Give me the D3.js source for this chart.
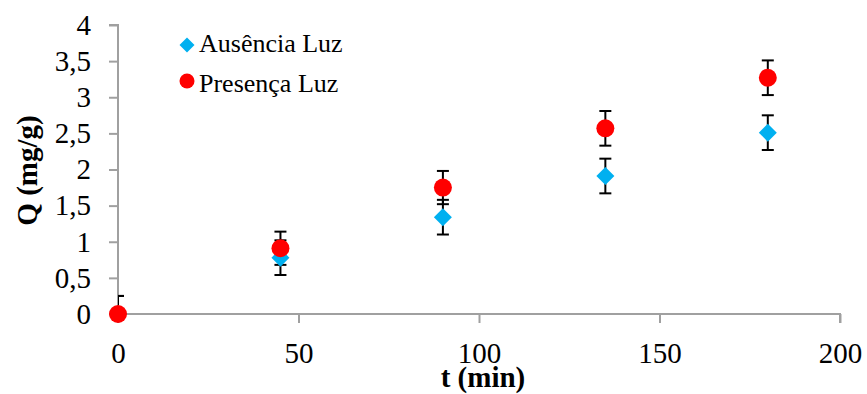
<!DOCTYPE html>
<html>
<head>
<meta charset="utf-8">
<script src="https://cdn.jsdelivr.net/npm/d3@7"></script>
<style>
  html, body { margin: 0; padding: 0; background: #fff; }
  svg { display: block; }
  svg text { font-family: "Liberation Serif", "Times New Roman", serif; fill: #000; }
</style>
</head>
<body>
<svg id="chart" width="867" height="394"></svg>
<script>
// Adsorption capacity over time, with and without light
const times = [0, 45, 90, 135, 180];
const ausenciaQ = [0, 0.78, 1.34, 1.91, 2.51];
const ausenciaErr = [0.25, 0.24, 0.24, 0.24, 0.24];
const presencaQ = [0, 0.91, 1.75, 2.57, 3.27];
const presencaErr = [0.25, 0.23, 0.23, 0.24, 0.24];
const xTicks = [0, 50, 100, 150, 200];
const yTicks = [0, 0.5, 1, 1.5, 2, 2.5, 3, 3.5, 4];
const seriesNames = ["Ausência Luz", "Presença Luz"];

const svg = d3.select("#chart");
const plotLeft = 118, plotRight = 840, plotTop = 25, plotBottom = 314;

const x = d3.scaleLinear().domain([0, 200]).range([plotLeft, plotRight]);
const y = d3.scaleLinear().domain([0, 4]).range([plotBottom, plotTop]);

const axisColor = "#a0a0a0";
const fontFamily = "'Liberation Serif', 'Times New Roman', serif";
const fmt = d => String(d).replace(".", ",");

// Y axis
const yAxis = svg.append("g")
  .attr("transform", `translate(${plotLeft},0)`)
  .call(d3.axisLeft(y).tickValues(yTicks).tickSize(9).tickPadding(18).tickFormat(fmt));
yAxis.select(".domain").attr("stroke", axisColor).attr("stroke-width", 2)
  .attr("d", `M${-9},${plotTop}H0V${plotBottom}`);
yAxis.selectAll(".tick line").attr("stroke", axisColor).attr("stroke-width", 2);
yAxis.selectAll(".tick text").style("font-size", "29px").style("font-family", fontFamily)
  .attr("fill", "#000");

// X axis
const xAxis = svg.append("g")
  .attr("transform", `translate(0,${plotBottom})`)
  .call(d3.axisBottom(x).tickValues(xTicks).tickSize(9).tickFormat(fmt));
xAxis.select(".domain").attr("stroke", axisColor).attr("stroke-width", 2)
  .attr("d", `M${plotLeft},0H${plotRight}V9`);
xAxis.selectAll(".tick line").attr("stroke", axisColor).attr("stroke-width", 2);
xAxis.selectAll(".tick text").style("font-size", "29px").style("font-family", fontFamily)
  .attr("fill", "#000").attr("y", 49).attr("dy", 0);

// Axis titles
svg.append("text")
  .attr("x", 483).attr("y", 387)
  .attr("text-anchor", "middle").style("font-size", "29px").style("font-weight", "bold")
  .style("font-family", fontFamily)
  .text("t (min)");
svg.append("text")
  .attr("transform", `translate(37,${(plotTop + plotBottom) / 2 + 1}) rotate(-90)`)
  .attr("text-anchor", "middle").style("font-size", "29px").style("font-weight", "bold")
  .style("font-family", fontFamily)
  .text("Q (mg/g)");

// Error bars, clipped to the plot area
svg.append("clipPath").attr("id", "plotClip")
  .append("rect").attr("x", plotLeft).attr("y", 0).attr("width", plotRight - plotLeft).attr("height", plotBottom);

const errGroup = svg.append("g").attr("clip-path", "url(#plotClip)");
function drawErrors(vals, errs) {
  times.forEach((t, i) => {
    const cx = x(t), yHi = y(vals[i] + errs[i]), yLo = y(vals[i] - errs[i]);
    errGroup.append("line").attr("x1", cx).attr("x2", cx).attr("y1", yHi).attr("y2", yLo)
      .attr("stroke", "#000").attr("stroke-width", 2);
    errGroup.append("line").attr("x1", cx - 6).attr("x2", cx + 6).attr("y1", yHi).attr("y2", yHi)
      .attr("stroke", "#000").attr("stroke-width", 2);
    errGroup.append("line").attr("x1", cx - 6).attr("x2", cx + 6).attr("y1", yLo).attr("y2", yLo)
      .attr("stroke", "#000").attr("stroke-width", 2);
  });
}
drawErrors(ausenciaQ, ausenciaErr);
drawErrors(presencaQ, presencaErr);

const blue = "#00B0F0", red = "#FF0000";
const diamond = (cx, cy, r) => `M${cx},${cy - r}L${cx + r},${cy}L${cx},${cy + r}L${cx - r},${cy}Z`;

// Markers
svg.append("g").selectAll("path").data(times).join("path")
  .attr("d", (t, i) => diamond(x(t), y(ausenciaQ[i]), 9))
  .attr("fill", blue);
svg.append("g").selectAll("circle").data(times).join("circle")
  .attr("cx", t => x(t)).attr("cy", (t, i) => y(presencaQ[i])).attr("r", 9)
  .attr("fill", red);

// Legend
const legend = svg.append("g");
legend.append("path").attr("d", diamond(187, 45, 7.5)).attr("fill", blue);
legend.append("circle").attr("cx", 187).attr("cy", 81).attr("r", 7.5).attr("fill", red);
legend.append("text").attr("x", 199).attr("y", 52).style("font-size", "26px")
  .style("font-family", fontFamily).text(seriesNames[0]);
legend.append("text").attr("x", 199).attr("y", 92).style("font-size", "26px")
  .style("font-family", fontFamily).text(seriesNames[1]);
</script>
</body>
</html>
